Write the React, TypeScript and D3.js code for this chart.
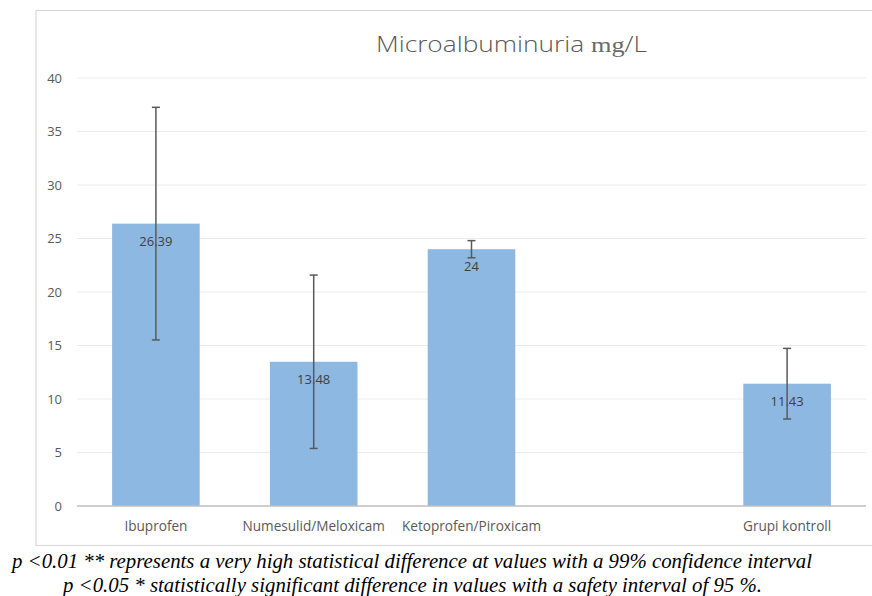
import React from "react";
import * as d3 from "d3";

const categories = ["Ibuprofen", "Numesulid/Meloxicam", "Ketoprofen/Piroxicam", "", "Grupi kontroll"];
const values: (number | null)[] = [26.39, 13.48, 24, null, 11.43];
const errors: (number | null)[] = [10.87, 8.1, 0.8, null, 3.3];
const valueLabels = ["26.39", "13.48", "24", "", "11.43"];
const yTicks = [0, 5, 10, 15, 20, 25, 30, 35, 40];
const title = "Microalbuminuria";
const titleUnit = "mg";
const titleUnitTail = "/L";
const footnotes = [
  "p <0.01 ** represents a very high statistical difference at values with a 99% confidence interval",
  "p <0.05 * statistically significant difference in values with a safety interval of 95 %.",
];

const W = 872;
const H = 596;
const plot = { left: 77, right: 866, top: 78, bottom: 506 };

export default function App() {
  const x = d3
    .scaleBand<number>()
    .domain(categories.map((_, i) => i))
    .range([plot.left, plot.right])
    .paddingInner(0.445)
    .paddingOuter(0.2225);
  const y = d3.scaleLinear().domain([0, 40]).range([plot.bottom, plot.top]);
  const sans = "'Open Sans', 'Liberation Sans', sans-serif";
  const capW = 4;

  return (
    <svg
      width={W}
      height={H}
      style={{ position: "absolute", left: 0, top: 0, background: "#fff" }}
    >
      <rect x={0} y={0} width={W} height={H} fill="#fff" />
      {/* chart frame */}
      <rect x={36} y={10.5} width={W} height={535} fill="#fff" stroke="#d9d9d9" strokeWidth={1.2} />
      {/* title */}
      <text
        x={376}
        y={52}
        fontFamily={sans}
        fontSize={22}
        fill="#595959"
        fontWeight={300}
        textLength={271}
        lengthAdjust="spacingAndGlyphs"
      >
        <tspan>{title}  </tspan>
        <tspan fontFamily="'Liberation Serif', serif" fontSize={22} fill="#6a6a6a">{titleUnit}</tspan>
        <tspan>{titleUnitTail}</tspan>
      </text>
      {/* gridlines */}
      {yTicks.map((t) =>
        t === 0 ? null : (
          <line key={"g" + t} x1={plot.left} x2={plot.right} y1={y(t)} y2={y(t)} stroke="#ececec" strokeWidth={1} />
        )
      )}
      {/* y labels */}
      {yTicks.map((t) => (
        <text key={"y" + t} x={62} y={y(t) + 4.5} textAnchor="end" fontFamily={sans} fontSize={13} fill="#595959">
          {t}
        </text>
      ))}
      {/* bars */}
      {values.map((v, i) =>
        v == null ? null : (
          <rect key={"b" + i} x={x(i)} y={y(v)} width={x.bandwidth()} height={y(0) - y(v)} fill="#8DB8E2" />
        )
      )}
      {/* axis line */}
      <line x1={plot.left} x2={plot.right} y1={y(0)} y2={y(0)} stroke="#bfbfbf" strokeWidth={1.3} />
      {/* value labels */}
      {values.map((v, i) =>
        v == null ? null : (
          <text
            key={"l" + i}
            x={(x(i) as number) + x.bandwidth() / 2}
            y={y(v) + 22}
            textAnchor="middle"
            fontFamily={sans}
            fontSize={13}
            fill="#404040"
          >
            {valueLabels[i]}
          </text>
        )
      )}
      {/* error bars */}
      {values.map((v, i) => {
        const e = errors[i];
        if (v == null || e == null) return null;
        const cx = (x(i) as number) + x.bandwidth() / 2;
        const y1 = y(v + e);
        const y2 = y(v - e);
        return (
          <g key={"e" + i} stroke="#595959" strokeWidth={1.5}>
            <line x1={cx} x2={cx} y1={y1} y2={y2} />
            <line x1={cx - capW} x2={cx + capW} y1={y1} y2={y1} />
            <line x1={cx - capW} x2={cx + capW} y1={y2} y2={y2} />
          </g>
        );
      })}
      {/* category labels */}
      {categories.map((c, i) => (
        <text
          key={"c" + i}
          x={(x(i) as number) + x.bandwidth() / 2}
          y={531}
          textAnchor="middle"
          fontFamily={sans}
          fontSize={13.6}
          fill="#595959"
        >
          {c}
        </text>
      ))}
      {/* footnotes */}
      <text
        x={12}
        y={568}
        fontFamily="'Liberation Serif', 'Times New Roman', serif"
        fontStyle="italic"
        fontSize={21}
        fill="#000"
        textLength={800}
        lengthAdjust="spacingAndGlyphs"
      >
        {footnotes[0]}
      </text>
      <text
        x={63}
        y={592}
        fontFamily="'Liberation Serif', 'Times New Roman', serif"
        fontStyle="italic"
        fontSize={21}
        fill="#000"
        textLength={699}
        lengthAdjust="spacingAndGlyphs"
      >
        {footnotes[1]}
      </text>
    </svg>
  );
}
